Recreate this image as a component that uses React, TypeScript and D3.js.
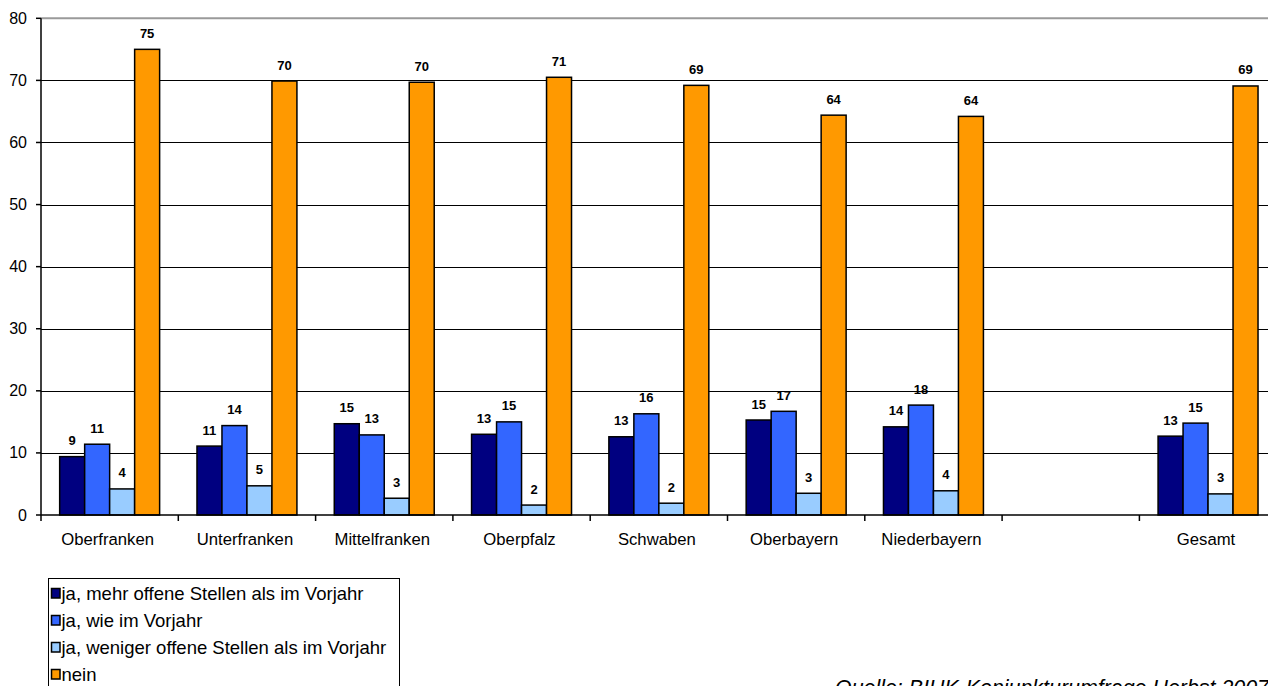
import React, { useEffect, useRef } from "react";
import * as d3 from "d3";

// Regions (one empty slot before "Gesamt")
const categories = [
  "Oberfranken",
  "Unterfranken",
  "Mittelfranken",
  "Oberpfalz",
  "Schwaben",
  "Oberbayern",
  "Niederbayern",
  "",
  "Gesamt",
];

const seriesNames = [
  "ja, mehr offene Stellen als im Vorjahr",
  "ja, wie im Vorjahr",
  "ja, weniger offene Stellen als im Vorjahr",
  "nein",
];

// values per series, same order as categories (null = no bar)
const mehr = [9.4, 11.1, 14.7, 13.0, 12.6, 15.3, 14.2, null, 12.7];
const wie = [11.4, 14.4, 12.9, 15.0, 16.3, 16.7, 17.7, null, 14.8];
const weniger = [4.2, 4.7, 2.7, 1.6, 1.9, 3.5, 3.9, null, 3.4];
const nein = [75.0, 69.9, 69.7, 70.5, 69.2, 64.4, 64.2, null, 69.1];

const labelMehr = ["9", "11", "15", "13", "13", "15", "14", "", "13"];
const labelWie = ["11", "14", "13", "15", "16", "17", "18", "", "15"];
const labelWeniger = ["4", "5", "3", "2", "2", "3", "4", "", "3"];
const labelNein = ["75", "70", "70", "71", "69", "64", "64", "", "69"];

const yTicks = [0, 10, 20, 30, 40, 50, 60, 70, 80];
const colors = ["#000080", "#3366FF", "#99CCFF", "#FF9900"];

const sourceText = "Quelle: BIHK-Konjunkturumfrage Herbst 2007";

const W = 1268;
const H = 686;

const App: React.FC = () => {
  const ref = useRef<SVGSVGElement>(null);

  useEffect(() => {
    if (!ref.current) return;
    const svg = d3.select(ref.current);
    svg.selectAll("*").remove();

    const left = 41;
    const top = 18.3;
    const bottom = 515;
    const step = 137.3;
    const font = "'Liberation Sans', Arial, sans-serif";

    const values = [mehr, wie, weniger, nein];
    const labels = [labelMehr, labelWie, labelWeniger, labelNein];

    const y = d3.scaleLinear().domain([0, 80]).range([bottom, top]);
    const x0 = d3
      .scaleBand<string>()
      .domain(categories.map((c, i) => String(i)))
      .range([left, left + step * categories.length])
      .paddingInner(0.272)
      .paddingOuter(0.136);
    const x1 = d3
      .scaleBand<number>()
      .domain([0, 1, 2, 3])
      .range([0, x0.bandwidth()]);

    // gridlines
    svg
      .append("g")
      .selectAll("line")
      .data(yTicks.filter((t) => t > 0 && t < 80))
      .enter()
      .append("line")
      .attr("x1", left)
      .attr("x2", W)
      .attr("y1", (d) => Math.round(y(d)) + 0.5)
      .attr("y2", (d) => Math.round(y(d)) + 0.5)
      .attr("stroke", "#000")
      .attr("stroke-width", 1);

    // plot area top border
    svg
      .append("line")
      .attr("x1", left)
      .attr("x2", W)
      .attr("y1", y(80))
      .attr("y2", y(80))
      .attr("stroke", "#9a9a9a")
      .attr("stroke-width", 2);

    // bars
    const groups = svg
      .append("g")
      .selectAll("g")
      .data(categories.map((c, i) => i))
      .enter()
      .append("g")
      .attr("transform", (i) => `translate(${x0(String(i))},0)`);

    groups.each(function (ci) {
      const g = d3.select(this);
      values.forEach((vals, si) => {
        const v = vals[ci];
        if (v == null) return;
        g.append("rect")
          .attr("x", x1(si) || 0)
          .attr("y", y(v))
          .attr("width", x1.bandwidth())
          .attr("height", bottom - y(v))
          .attr("fill", colors[si])
          .attr("stroke", "#000")
          .attr("stroke-width", 1.5);
        g.append("text")
          .attr("x", (x1(si) || 0) + x1.bandwidth() / 2)
          .attr("y", y(v) - 11.5)
          .attr("text-anchor", "middle")
          .style("font-family", font)
          .style("font-size", "13px")
          .style("font-weight", "bold")
          .style("fill", "#000")
          .text(labels[si][ci]);
      });
    });

    // y axis
    svg
      .append("line")
      .attr("x1", left)
      .attr("x2", left)
      .attr("y1", top)
      .attr("y2", bottom)
      .attr("stroke", "#000")
      .attr("stroke-width", 1.5);
    const yt = svg.append("g");
    yTicks.forEach((t) => {
      yt.append("line")
        .attr("x1", left - 5)
        .attr("x2", left)
        .attr("y1", y(t))
        .attr("y2", y(t))
        .attr("stroke", "#000")
        .attr("stroke-width", 1.5);
      yt.append("text")
        .attr("x", 27)
        .attr("y", y(t) + 5.5)
        .attr("text-anchor", "end")
        .style("font-family", font)
        .style("font-size", "16px")
        .text(String(t));
    });

    // x axis
    svg
      .append("line")
      .attr("x1", left)
      .attr("x2", W)
      .attr("y1", bottom)
      .attr("y2", bottom)
      .attr("stroke", "#000")
      .attr("stroke-width", 1.5);
    for (let i = 0; i <= categories.length; i++) {
      const tx = left + step * i;
      svg
        .append("line")
        .attr("x1", tx)
        .attr("x2", tx)
        .attr("y1", bottom)
        .attr("y2", bottom + 6)
        .attr("stroke", "#000")
        .attr("stroke-width", 1.5);
    }
    categories.forEach((c, i) => {
      svg
        .append("text")
        .attr("x", (x0(String(i)) || 0) + x0.bandwidth() / 2 - 2)
        .attr("y", 545)
        .attr("text-anchor", "middle")
        .style("font-family", font)
        .style("font-size", "16.7px")
        .text(c);
    });

    // legend
    svg
      .append("rect")
      .attr("x", 48.5)
      .attr("y", 578.5)
      .attr("width", 351)
      .attr("height", 140)
      .attr("fill", "#fff")
      .attr("stroke", "#000")
      .attr("stroke-width", 1);
    seriesNames.forEach((name, i) => {
      const ly = 600 + i * 27;
      svg
        .append("rect")
        .attr("x", 51.5)
        .attr("y", ly - 11.5)
        .attr("width", 8.5)
        .attr("height", 9.5)
        .attr("fill", colors[i])
        .attr("stroke", "#000")
        .attr("stroke-width", 1.5);
      svg
        .append("text")
        .attr("x", 61.5)
        .attr("y", ly)
        .style("font-family", font)
        .style("font-size", "18.5px")
        .text(name);
    });

    // source (cut off at the bottom edge, as in the original)
    svg
      .append("text")
      .attr("x", 835)
      .attr("y", 695)
      .style("font-family", font)
      .style("font-size", "21.4px")
      .style("font-style", "italic")
      .text(sourceText);
  }, []);

  return (
    <svg
      ref={ref}
      width={W}
      height={H}
      style={{ position: "absolute", left: 0, top: 0, background: "#fff" }}
    />
  );
};

export default App;
